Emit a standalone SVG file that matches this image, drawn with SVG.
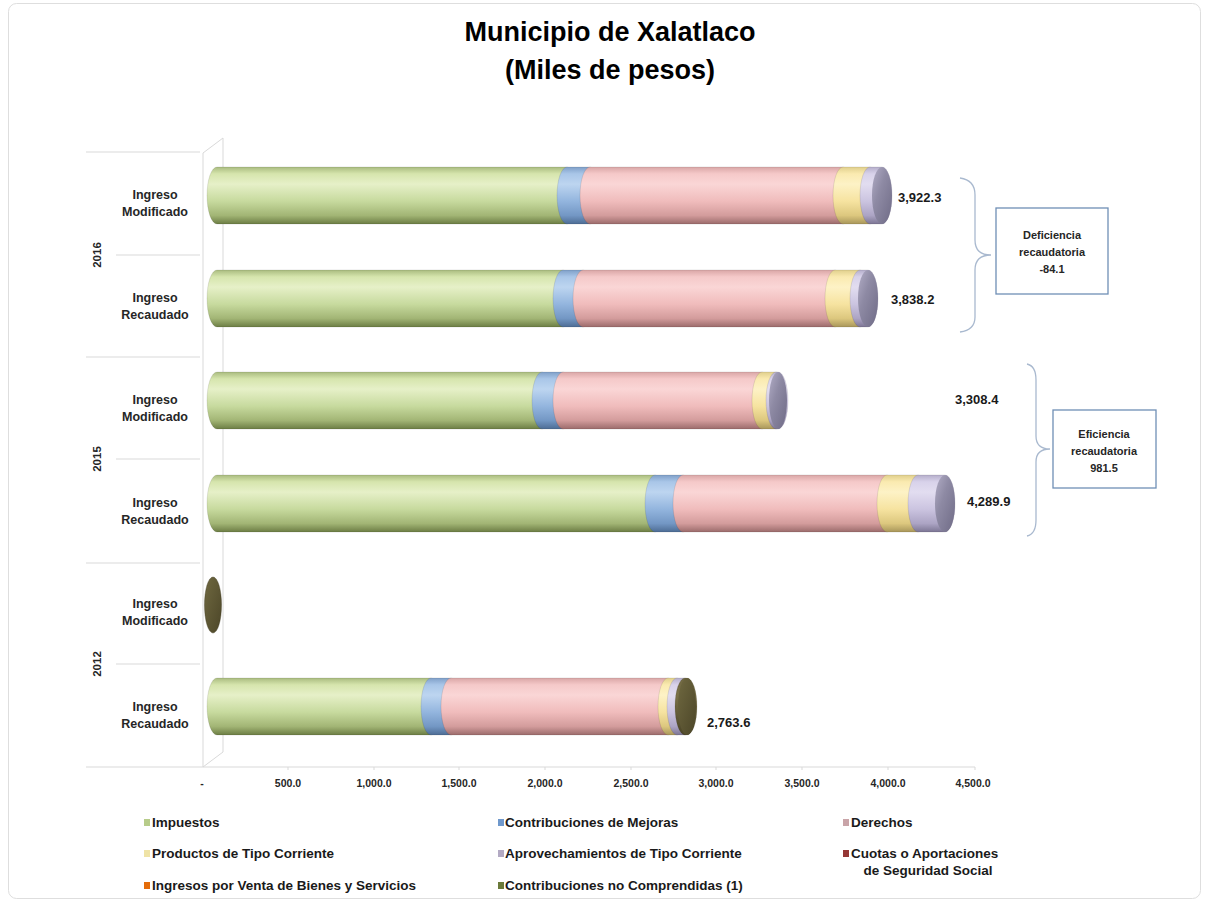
<svg xmlns="http://www.w3.org/2000/svg" width="1206" height="905" viewBox="0 0 1206 905">
<defs>
<linearGradient id="gG" x1="0" y1="0" x2="0" y2="1"><stop offset="0" stop-color="#a9bb7f"/><stop offset="0.12" stop-color="#d6e5ad"/><stop offset="0.3" stop-color="#e6f0c8"/><stop offset="0.6" stop-color="#c7da9e"/><stop offset="0.85" stop-color="#a2b575"/><stop offset="1" stop-color="#6c7d44"/></linearGradient>
<linearGradient id="gB" x1="0" y1="0" x2="0" y2="1"><stop offset="0" stop-color="#7f9fc8"/><stop offset="0.12" stop-color="#a9c6e8"/><stop offset="0.3" stop-color="#bdd5f0"/><stop offset="0.6" stop-color="#93b5de"/><stop offset="0.85" stop-color="#7397c4"/><stop offset="1" stop-color="#4d6c94"/></linearGradient>
<linearGradient id="gP" x1="0" y1="0" x2="0" y2="1"><stop offset="0" stop-color="#d9a6a6"/><stop offset="0.12" stop-color="#f5c9c9"/><stop offset="0.3" stop-color="#fad6d6"/><stop offset="0.6" stop-color="#f0bcbc"/><stop offset="0.85" stop-color="#d39c9c"/><stop offset="1" stop-color="#9b6b6b"/></linearGradient>
<linearGradient id="gY" x1="0" y1="0" x2="0" y2="1"><stop offset="0" stop-color="#e0cf8c"/><stop offset="0.12" stop-color="#faeab0"/><stop offset="0.3" stop-color="#fdf2c6"/><stop offset="0.6" stop-color="#f6e3a0"/><stop offset="0.85" stop-color="#dcc77e"/><stop offset="1" stop-color="#a8965a"/></linearGradient>
<linearGradient id="gV" x1="0" y1="0" x2="0" y2="1"><stop offset="0" stop-color="#b5aecb"/><stop offset="0.12" stop-color="#d8d2ea"/><stop offset="0.3" stop-color="#e2ddf0"/><stop offset="0.6" stop-color="#cbc4e0"/><stop offset="0.85" stop-color="#aca4c4"/><stop offset="1" stop-color="#7c7594"/></linearGradient>
<linearGradient id="gO" x1="0" y1="0" x2="0" y2="1"><stop offset="0" stop-color="#6e6640"/><stop offset="0.3" stop-color="#7a7148"/><stop offset="1" stop-color="#4a4426"/></linearGradient>
<linearGradient id="fV" x1="0" y1="0" x2="1" y2="1"><stop offset="0" stop-color="#b2adc6"/><stop offset="0.4" stop-color="#8e8aa4"/><stop offset="1" stop-color="#6f6b86"/></linearGradient>
<linearGradient id="fO" x1="0" y1="0" x2="1" y2="1"><stop offset="0" stop-color="#6f6840"/><stop offset="1" stop-color="#4c4628"/></linearGradient>
</defs>
<style>
.t{font-family:"Liberation Sans",Arial,sans-serif;font-weight:bold;fill:#000}
.title{font-size:27px;text-anchor:middle}
.cat{font-size:12.5px;text-anchor:middle;fill:#262626}
.yr{font-size:11.5px;text-anchor:middle;fill:#262626}
.ax{font-size:10.5px;text-anchor:middle;fill:#262626}
.val{font-size:13px;fill:#1a1a1a}
.box{font-size:11px;text-anchor:middle;fill:#262626}
.leg{font-size:13.5px;fill:#1a1a1a}
.grid{stroke:#d9d9d9;stroke-width:1;fill:none}
.seg{stroke:#000;stroke-opacity:0.12;stroke-width:0.8}
.brace{fill:none;stroke:#a9b9cf;stroke-width:1.3}
.cbox{fill:#fff;stroke:#6f8fb5;stroke-width:1.3}
</style>
<rect x="8.5" y="3.5" width="1192" height="895" rx="8" fill="#fff" stroke="#dedede"/>
<g id="title">
<text class="t title" x="610" y="41">Municipio de Xalatlaco</text>
<text class="t title" x="610" y="79">(Miles de pesos)</text>
</g>
<g id="axes">
<path class="grid" d="M203,153 V767 M223,138 V752 M203,153 L223,138 M203,767 L223,752 M200,767 H975"/>
<path class="grid" d="M288,767 v3 M374,767 v3 M459,767 v3 M545,767 v3 M631,767 v3 M716,767 v3 M802,767 v3 M888,767 v3 M975,767 v3"/>
<path class="grid" d="M86,152 H200 M116,255 H200 M86,357 H200 M116,459 H200 M86,563 H200 M116,664 H200 M86,767 H200"/>
<text class="t yr" transform="translate(101,255) rotate(-90)">2016</text>
<text class="t yr" transform="translate(101,459) rotate(-90)">2015</text>
<text class="t yr" transform="translate(101,664) rotate(-90)">2012</text>
<text class="t cat" x="155" y="199">Ingreso</text><text class="t cat" x="155" y="216">Modificado</text>
<text class="t cat" x="155" y="302">Ingreso</text><text class="t cat" x="155" y="319">Recaudado</text>
<text class="t cat" x="155" y="404">Ingreso</text><text class="t cat" x="155" y="421">Modificado</text>
<text class="t cat" x="155" y="507">Ingreso</text><text class="t cat" x="155" y="524">Recaudado</text>
<text class="t cat" x="155" y="608">Ingreso</text><text class="t cat" x="155" y="625">Modificado</text>
<text class="t cat" x="155" y="711">Ingreso</text><text class="t cat" x="155" y="728">Recaudado</text>
<text class="t ax" x="202" y="787">-</text>
<text class="t ax" x="288" y="787">500.0</text>
<text class="t ax" x="374" y="787">1,000.0</text>
<text class="t ax" x="459" y="787">1,500.0</text>
<text class="t ax" x="545" y="787">2,000.0</text>
<text class="t ax" x="631" y="787">2,500.0</text>
<text class="t ax" x="716" y="787">3,000.0</text>
<text class="t ax" x="802" y="787">3,500.0</text>
<text class="t ax" x="888" y="787">4,000.0</text>
<text class="t ax" x="973" y="787">4,500.0</text>
</g>
<g id="bar-2016-modificado">
<path class="seg" fill="url(#gG)" d="M217,167 H567 A10,28.5 0 0 1 567,224 H217 A10,28.5 0 0 1 217,167 Z"/>
<path class="seg" fill="url(#gB)" d="M567,167 H590 A10,28.5 0 0 1 590,224 H567 A10,28.5 0 0 1 567,167 Z"/>
<path class="seg" fill="url(#gP)" d="M590,167 H843 A10,28.5 0 0 1 843,224 H590 A10,28.5 0 0 1 590,167 Z"/>
<path class="seg" fill="url(#gY)" d="M843,167 H870 A10,28.5 0 0 1 870,224 H843 A10,28.5 0 0 1 843,167 Z"/>
<path class="seg" fill="url(#gV)" d="M870,167 H882 A10,28.5 0 0 1 882,224 H870 A10,28.5 0 0 1 870,167 Z"/>
<ellipse cx="882" cy="195.5" rx="10" ry="28.5" fill="url(#fV)"/>
<text class="t val" x="898" y="202">3,922.3</text>
</g>
<g id="bar-2016-recaudado">
<path class="seg" fill="url(#gG)" d="M217,270 H563 A10,28.5 0 0 1 563,327 H217 A10,28.5 0 0 1 217,270 Z"/>
<path class="seg" fill="url(#gB)" d="M563,270 H583 A10,28.5 0 0 1 583,327 H563 A10,28.5 0 0 1 563,270 Z"/>
<path class="seg" fill="url(#gP)" d="M583,270 H835 A10,28.5 0 0 1 835,327 H583 A10,28.5 0 0 1 583,270 Z"/>
<path class="seg" fill="url(#gY)" d="M835,270 H860 A10,28.5 0 0 1 860,327 H835 A10,28.5 0 0 1 835,270 Z"/>
<path class="seg" fill="url(#gV)" d="M860,270 H868 A10,28.5 0 0 1 868,327 H860 A10,28.5 0 0 1 860,270 Z"/>
<ellipse cx="868" cy="298.5" rx="10" ry="28.5" fill="url(#fV)"/>
<text class="t val" x="891" y="304">3,838.2</text>
</g>
<g id="bar-2015-modificado">
<path class="seg" fill="url(#gG)" d="M217,372 H542 A10,28.5 0 0 1 542,429 H217 A10,28.5 0 0 1 217,372 Z"/>
<path class="seg" fill="url(#gB)" d="M542,372 H563 A10,28.5 0 0 1 563,429 H542 A10,28.5 0 0 1 542,372 Z"/>
<path class="seg" fill="url(#gP)" d="M563,372 H762 A10,28.5 0 0 1 762,429 H563 A10,28.5 0 0 1 563,372 Z"/>
<path class="seg" fill="url(#gY)" d="M762,372 H776 A10,28.5 0 0 1 776,429 H762 A10,28.5 0 0 1 762,372 Z"/>
<path class="seg" fill="url(#gV)" d="M776,372 H778 A10,28.5 0 0 1 778,429 H776 A10,28.5 0 0 1 776,372 Z"/>
<ellipse cx="778" cy="400.5" rx="9" ry="28.5" fill="url(#fV)"/>
<text class="t val" x="955" y="404">3,308.4</text>
</g>
<g id="bar-2015-recaudado">
<path class="seg" fill="url(#gG)" d="M217,475 H655 A10,28.5 0 0 1 655,532 H217 A10,28.5 0 0 1 217,475 Z"/>
<path class="seg" fill="url(#gB)" d="M655,475 H683 A10,28.5 0 0 1 683,532 H655 A10,28.5 0 0 1 655,475 Z"/>
<path class="seg" fill="url(#gP)" d="M683,475 H887 A10,28.5 0 0 1 887,532 H683 A10,28.5 0 0 1 683,475 Z"/>
<path class="seg" fill="url(#gY)" d="M887,475 H918 A10,28.5 0 0 1 918,532 H887 A10,28.5 0 0 1 887,475 Z"/>
<path class="seg" fill="url(#gV)" d="M918,475 H945 A10,28.5 0 0 1 945,532 H918 A10,28.5 0 0 1 918,475 Z"/>
<ellipse cx="945" cy="503.5" rx="10" ry="28.5" fill="url(#fV)"/>
<text class="t val" x="967" y="506">4,289.9</text>
</g>
<g id="bar-2012-modificado">
<ellipse cx="213" cy="605" rx="8.5" ry="28" fill="url(#fO)" stroke="#3f3a20" stroke-opacity="0.4"/>
</g>
<g id="bar-2012-recaudado">
<path class="seg" fill="url(#gG)" d="M217,678 H431 A10,28.5 0 0 1 431,735 H217 A10,28.5 0 0 1 217,678 Z"/>
<path class="seg" fill="url(#gB)" d="M431,678 H451 A10,28.5 0 0 1 451,735 H431 A10,28.5 0 0 1 431,678 Z"/>
<path class="seg" fill="url(#gP)" d="M451,678 H668 A10,28.5 0 0 1 668,735 H451 A10,28.5 0 0 1 451,678 Z"/>
<path class="seg" fill="url(#gY)" d="M668,678 H677 A10,28.5 0 0 1 677,735 H668 A10,28.5 0 0 1 668,678 Z"/>
<path class="seg" fill="url(#gV)" d="M677,678 H685 A10,28.5 0 0 1 685,735 H677 A10,28.5 0 0 1 677,678 Z"/>
<path class="seg" fill="url(#gO)" d="M685,678 H687 A10,28.5 0 0 1 687,735 H685 A10,28.5 0 0 1 685,678 Z"/>
<ellipse cx="687" cy="706.5" rx="9" ry="28.5" fill="url(#fO)"/>
<text class="t val" x="707" y="727">2,763.6</text>
</g>
<g id="connectors">
<path class="brace" d="M960,178 Q975,180 975,195 V240 Q975,255 991,255 Q975,255 975,270 V317 Q975,330 960,332"/>
<path class="brace" d="M1027,364 Q1036,366 1036,380 V436 Q1036,449 1050,449 Q1036,449 1036,462 V520 Q1036,534 1027,536"/>
</g>
<g id="deficiencia">
<rect class="cbox" x="996" y="208" width="112" height="86"/>
<text class="t box" x="1052" y="239">Deficiencia</text>
<text class="t box" x="1052" y="256">recaudatoria</text>
<text class="t box" x="1052" y="273">-84.1</text>
</g>
<g id="eficiencia">
<rect class="cbox" x="1053" y="410" width="103" height="78"/>
<text class="t box" x="1104" y="438">Eficiencia</text>
<text class="t box" x="1104" y="455">recaudatoria</text>
<text class="t box" x="1104" y="472">981.5</text>
</g>
<g id="legend">
<rect x="144" y="819" width="6" height="7" fill="#b7cc8a"/><text class="t leg" x="152" y="827">Impuestos</text>
<rect x="498" y="819" width="6" height="7" fill="#6f98cc"/><text class="t leg" x="505" y="827">Contribuciones de Mejoras</text>
<rect x="843" y="819" width="6" height="7" fill="#c9a4a8"/><text class="t leg" x="851" y="827">Derechos</text>
<rect x="144" y="850" width="6" height="7" fill="#efe3a6"/><text class="t leg" x="152" y="858">Productos de Tipo Corriente</text>
<rect x="498" y="850" width="6" height="7" fill="#b3aac4"/><text class="t leg" x="505" y="858">Aprovechamientos de Tipo Corriente</text>
<rect x="843" y="850" width="6" height="7" fill="#953735"/><text class="t leg" x="851" y="858">Cuotas o Aportaciones</text>
<text class="t leg" x="928" y="875" text-anchor="middle">de Seguridad Social</text>
<rect x="144" y="882" width="6" height="7" fill="#e46c0a"/><text class="t leg" x="152" y="890">Ingresos por Venta de Bienes y Servicios</text>
<rect x="498" y="882" width="6" height="7" fill="#6b7a3a"/><text class="t leg" x="505" y="890">Contribuciones no Comprendidas (1)</text>
</g>
</svg>
